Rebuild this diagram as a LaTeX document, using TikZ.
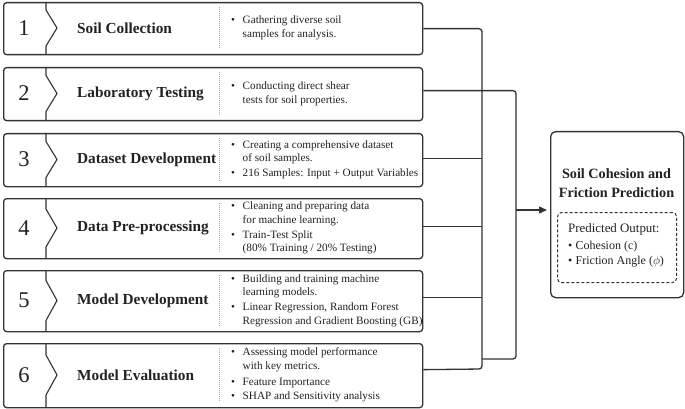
\documentclass[tikz,border=0pt]{standalone}
\usepackage{fontspec}
\setmainfont{Liberation Serif}
\usetikzlibrary{arrows.meta}
\definecolor{ink}{HTML}{222222}
\definecolor{edge}{HTML}{333333}
\tikzset{
  rowbox/.style={draw=edge, line width=1.3pt, rounded corners=3pt, minimum width=419pt, inner sep=0pt, fill=white},
  divline/.style={draw=edge, line width=1.1pt, line join=miter},
  sepline/.style={draw=gray!70, line width=0.8pt, dash pattern=on 1pt off 1pt},
  numtext/.style={text=ink, font=\fontsize{22.5}{24}\selectfont, inner sep=0pt},
  titletext/.style={text=ink, font=\fontsize{15.3}{18}\selectfont\bfseries, inner sep=0pt, anchor=west},
  bodytext/.style={text=ink, font=\fontsize{11.2}{13.6}\selectfont, inner sep=0pt, anchor=west},
  bus/.style={draw=edge, line width=1.3pt, rounded corners=3pt},
  arr/.style={draw=edge, line width=1.3pt, -{Triangle[length=8pt,width=7pt]}},
  rbox/.style={draw=edge, line width=1.3pt, rounded corners=5pt, inner sep=0pt, fill=white},
  dbox/.style={draw=edge, line width=1pt, dashed, dash pattern=on 3pt off 2pt, rounded corners=4pt, inner sep=0pt},
}
\newcommand\mkrow[7]{%
  \node[rowbox, minimum height=#3pt, anchor=north west] (#1) at (3,#2) {};
  \draw[divline] (46,#2) -- (46,{#2+#3/2-#7}) -- (57,{#2+#3/2}) -- (46,{#2+#3/2+#7}) -- (46,{#2+#3});
  \node[numtext] (#1n) at (24,{#2+#3/2}) {#4};
  \node[titletext] (#1t) at (77,{#2+#3/2}) {#5};
  \draw[sepline] (219,{#2+5}) -- (219,{#2+#3-5});
  \node[bodytext] (#1b) at (231,{#2+#3/2}) {\begin{tabular}{@{}p{11.5pt}@{}l@{}}#6\end{tabular}};
}
\begin{document}
\begin{tikzpicture}[x=1pt,y=-1pt]
\useasboundingbox[fill=white] (0,0) rectangle (685,409);
\mkrow{r1}{2}{52}{1}{Soil Collection}{\textbullet & Gathering diverse soil\\ & samples for analysis.}{18}
\mkrow{r2}{67}{53}{2}{Laboratory Testing}{\textbullet & Conducting direct shear\\ & tests for soil properties.}{18}
\mkrow{r3}{133}{53}{3}{Dataset Development}{\textbullet & Creating a comprehensive dataset\\ & of soil samples.\\[1pt] \textbullet & 216 Samples: Input + Output Variables}{18}
\mkrow{r4}{198}{60}{4}{Data Pre-processing}{\textbullet & Cleaning and preparing data\\ & for machine learning.\\[1pt] \textbullet & Train-Test Split\\ & (80\% Training / 20\% Testing)}{19}
\mkrow{r5}{270}{61}{5}{Model Development}{\textbullet & Building and training machine\\ & learning models.\\[1pt] \textbullet & Linear Regression, Random Forest\\ & Regression and Gradient Boosting (GB)}{20}
\mkrow{r6}{343}{64}{6}{Model Evaluation}{\textbullet & Assessing model performance\\ & with key metrics.\\[2pt] \textbullet & Feature Importance\\[1pt] \textbullet & SHAP and Sensitivity analysis}{20}

% result box
\node[rbox, minimum width=133pt, minimum height=166pt, anchor=north west] (rb) at (550,131) {};
\node[text=ink, font=\fontsize{14.2}{18.5}\selectfont\bfseries, align=center, inner sep=0pt] (rbt) at (616.5,183) {Soil Cohesion and\\Friction Prediction};
\node[dbox, minimum width=119pt, minimum height=70pt, anchor=north west] (db) at (557,212) {};
\node[text=ink, anchor=north west, inner sep=0pt, align=left] (dbt) at (568,223) {%
  {\fontsize{12.9}{15}\selectfont Predicted Output:}\\[3pt]
  {\fontsize{12}{15}\selectfont\begin{tabular}{@{}p{7.5pt}@{}l@{}}\textbullet & Cohesion (c)\\ \textbullet & Friction Angle ($\phi$)\end{tabular}}};

% connectors
\coordinate (abot) at (482,369);
\coordinate (bbot) at (516,359);
\coordinate (bjoin) at (482,359);
\coordinate (c2) at ([yshift=3.5pt]r2.east);
\coordinate (c3) at ([yshift=1.5pt]r3.east);
\coordinate (c4) at ([yshift=2pt]r4.east);
\coordinate (c5) at ([yshift=3.5pt]r5.east);
\coordinate (c6) at ([yshift=6pt]r6.east);
\draw[bus] (r1.east) -| (abot) -- (c6);
\draw[bus] (c2) -| (bbot) -- (bjoin);
\draw[bus] (c3) -- (c3 -| abot);
\draw[bus] (c4) -- (c4 -| abot);
\draw[bus] (c5) -- (c5 -| abot);
\coordinate (bar) at (516,210);
\draw[arr, shorten >=3pt] (bar) -- (bar -| rb.west);
\end{tikzpicture}
\end{document}
